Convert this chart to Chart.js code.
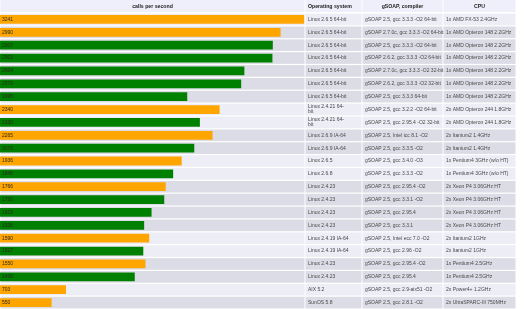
<!DOCTYPE html>
<html>
<head>
<meta charset="utf-8">
<script src="https://cdn.jsdelivr.net/npm/chart.js@4.4.1/dist/chart.umd.min.js"></script>
<style>
  html, body { margin: 0; padding: 0; background: #fff; }
  canvas { display: block; }
</style>
</head>
<body>
<canvas id="perfChart" width="525" height="309"></canvas>
<script>
// calls per second, one entry per benchmark row
const callsPerSecond = [3241, 2990, 2907, 2903, 2604, 2570, 1995, 2340, 2130, 2265, 2070,
    1936, 1845, 1766, 1750, 1615, 1536, 1590, 1527, 1550, 1436, 703, 550];

// orange = best compiler for that machine, green = the others
const isBest = [true, true, false, false, false, false, false, true, false, true, false,
    true, false, true, false, false, false, true, false, true, false, true, true];

const osLabels = [
    'Linux 2.6.5 64-bit', 'Linux 2.6.5 64-bit', 'Linux 2.6.5 64-bit', 'Linux 2.6.5 64-bit',
    'Linux 2.6.5 64-bit', 'Linux 2.6.5 64-bit', 'Linux 2.6.5 64-bit',
    ['Linux 2.4.21 64-', 'bit'], ['Linux 2.4.21 64-', 'bit'],
    'Linux 2.6.9 IA-64', 'Linux 2.6.9 IA-64', 'Linux 2.6.5', 'Linux 2.6.8',
    'Linux 2.4.23', 'Linux 2.4.23', 'Linux 2.4.23', 'Linux 2.4.23',
    'Linux 2.4.19 IA-64', 'Linux 2.4.19 IA-64', 'Linux 2.4.23', 'Linux 2.4.23',
    'AIX 5.2', 'SunOS 5.8'
];

const compilerLabels = [
    'gSOAP 2.5, gcc 3.3.3 -O2 64-bit', 'gSOAP 2.7.0c, gcc 3.3.3 -O2 64-bit',
    'gSOAP 2.5, gcc 3.3.3 -O2 64-bit', 'gSOAP 2.6.2, gcc 3.3.3 -O2 64-bit',
    'gSOAP 2.7.0c, gcc 3.3.3 -O2 32-bit', 'gSOAP 2.6.2, gcc 3.3.3 -O2 32-bit',
    'gSOAP 2.5, gcc 3.3.3 64-bit', 'gSOAP 2.5, gcc 3.2.2 -O2 64-bit',
    'gSOAP 2.5, gcc 2.95.4 -O2 32-bit', 'gSOAP 2.5, Intel icc 8.1 -O2',
    'gSOAP 2.5, gcc 3.3.5 -O2', 'gSOAP 2.5, gcc 3.4.0 -O3', 'gSOAP 2.5, gcc 3.3.3 -O2',
    'gSOAP 2.5, gcc 2.95.4 -O2', 'gSOAP 2.5, gcc 3.3.1 -O2', 'gSOAP 2.5, gcc 2.95.4',
    'gSOAP 2.5, gcc 3.3.1', 'gSOAP 2.5, Intel ecc 7.0 -O2', 'gSOAP 2.5, gcc 2.96 -O2',
    'gSOAP 2.5, gcc 2.95.4 -O2', 'gSOAP 2.5, gcc 2.95.4', 'gSOAP 2.5, gcc 2.9-aix51 -O2',
    'gSOAP 2.5, gcc 2.8.1 -O2'
];

const cpuLabels = [
    '1x AMD FX-53 2.4GHz', '1x AMD Opteron 148 2.2GHz', '1x AMD Opteron 148 2.2GHz',
    '1x AMD Opteron 148 2.2GHz', '1x AMD Opteron 148 2.2GHz', '1x AMD Opteron 148 2.2GHz',
    '1x AMD Opteron 148 2.2GHz', '2x AMD Opteron 244 1.8GHz', '2x AMD Opteron 244 1.8GHz',
    '2x Itanium2 1.4GHz', '2x Itanium2 1.4GHz', '1x Pentium4 3GHz (w/o HT)',
    '1x Pentium4 3GHz (w/o HT)', '2x Xeon P4 3.06GHz HT', '2x Xeon P4 3.06GHz HT',
    '2x Xeon P4 3.06GHz HT', '2x Xeon P4 3.06GHz HT', '2x Itanium2 1GHz', '2x Itanium2 1GHz',
    '1x Pentium4 2.5GHz', '1x Pentium4 2.5GHz', '2x Power4+ 1.2GHz', '2x UltraSPARC-III 750MHz'
];

const headers = ['calls per second', 'Operating system', 'gSOAP, compiler', 'CPU'];

const FONT = '"Liberation Sans", Arial, sans-serif';
const ORANGE = '#ffa500';
const GREEN = '#008000';
const LIGHT_BG = '#ededf5';
const DARK_BG = '#dcdce6';
const HEADER_BG = '#eeeffa';

// shade alternates each time the CPU changes
const shades = [];
let shadeIdx = 0;
cpuLabels.forEach((cpu, i) => {
    if (i > 0 && cpu !== cpuLabels[i - 1]) shadeIdx++;
    shades.push(shadeIdx % 2 === 0 ? LIGHT_BG : DARK_BG);
});

// table columns to the right of the bars (px)
const textCols = [
    { left: 305, right: 362 },
    { left: 362, right: 443 },
    { left: 443, right: 516 }
];
const headerAlign = ['left', 'center', 'center'];

const tablePlugin = {
    id: 'tablePlugin',
    beforeDatasetsDraw(chart) {
        const ctx = chart.ctx;
        const area = chart.chartArea;
        const yScale = chart.scales.y;
        const step = (area.bottom - area.top) / callsPerSecond.length;
        const cols = [{ left: area.left, right: area.right }].concat(textCols);
        ctx.save();
        // header cells
        ctx.fillStyle = HEADER_BG;
        cols.forEach(c => ctx.fillRect(c.left + 0.5, 0, c.right - c.left - 1, area.top - 1));
        // row cells
        callsPerSecond.forEach((v, i) => {
            const yc = yScale.getPixelForValue(i);
            ctx.fillStyle = shades[i];
            cols.forEach(c => ctx.fillRect(c.left + 0.5, yc - step / 2 + 0.6, c.right - c.left - 1, step - 1.2));
        });
        ctx.restore();
    },
    afterDatasetsDraw(chart) {
        const ctx = chart.ctx;
        const area = chart.chartArea;
        const yScale = chart.scales.y;
        ctx.save();
        ctx.textBaseline = 'middle';

        // headers
        ctx.font = 'bold 5.2px ' + FONT;
        ctx.fillStyle = '#222';
        ctx.textAlign = 'center';
        ctx.fillText(headers[0], (area.left + area.right) / 2, area.top / 2);
        textCols.forEach((c, k) => {
            ctx.textAlign = headerAlign[k];
            const x = headerAlign[k] === 'left' ? c.left + 3 : (c.left + c.right) / 2;
            ctx.fillText(headers[k + 1], x, area.top / 2);
        });

        // values inside bars + text cells
        ctx.font = '5px ' + FONT;
        ctx.textAlign = 'left';
        callsPerSecond.forEach((v, i) => {
            const yc = yScale.getPixelForValue(i);
            ctx.fillStyle = '#2a2a1a';
            ctx.fillText(String(v), area.left + 2, yc);
            ctx.fillStyle = '#484848';
            [osLabels[i], compilerLabels[i], cpuLabels[i]].forEach((label, k) => {
                const lines = Array.isArray(label) ? label : [label];
                lines.forEach((line, j) => {
                    const dy = (j - (lines.length - 1) / 2) * 5;
                    ctx.fillText(line, textCols[k].left + 3, yc + dy);
                });
            });
        });
        ctx.restore();
    }
};

const ctx = document.getElementById('perfChart').getContext('2d');
new Chart(ctx, {
    type: 'bar',
    data: {
        labels: callsPerSecond.map((v, i) => i),
        datasets: [{
            label: 'calls per second',
            data: callsPerSecond,
            backgroundColor: isBest.map(b => b ? ORANGE : GREEN),
            borderWidth: 0,
            categoryPercentage: 1,
            barPercentage: 0.68
        }]
    },
    options: {
        indexAxis: 'y',
        responsive: false,
        animation: false,
        layout: { padding: { left: 0, right: 220, top: 13, bottom: 0 } },
        plugins: { legend: { display: false }, tooltip: { enabled: false } },
        scales: {
            x: { display: false, min: 0, max: 3250 },
            y: { display: false }
        }
    },
    plugins: [tablePlugin]
});
</script>
</body>
</html>
